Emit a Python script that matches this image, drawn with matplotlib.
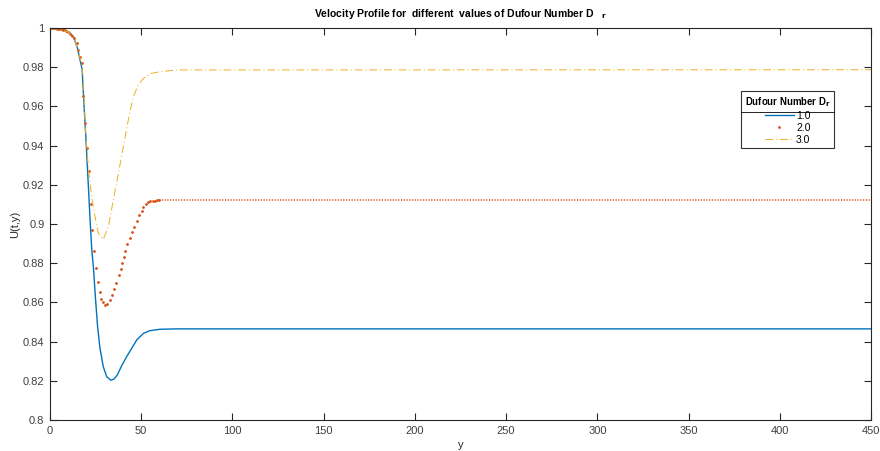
import matplotlib.pyplot as plt
from matplotlib.lines import Line2D
from matplotlib.ticker import FormatStrFormatter

plt.rcParams['font.family'] = ['Liberation Sans', 'DejaVu Sans']

# Dr = 1.0 (solid line)
y_d1 = [0, 4, 8, 11, 12.8, 15, 17.6, 18.7, 19.9, 21.0, 22.1, 22.9, 23.8, 25.0,
        26.1, 27.4, 29.2, 31.1, 33.4, 35.1, 36.9, 39.3, 42.0, 44.8, 47.5, 51.2,
        54.8, 60.3, 70, 450]
u_d1 = [1.0, 0.9997, 0.999, 0.9975, 0.9956, 0.99, 0.979, 0.96, 0.94, 0.92, 0.90,
        0.887, 0.878, 0.8612, 0.8476, 0.8366, 0.8272, 0.8221, 0.8203, 0.8209,
        0.823, 0.8277, 0.8323, 0.8366, 0.8408, 0.8442, 0.8456, 0.8463, 0.8465, 0.8465]

# Dr = 2.0 (dots) - dip region point by point, plateau afterwards
y_d2 = [0, 1, 2, 3, 4, 5, 6, 7, 8, 9, 10, 11, 12, 13, 14.6, 15.5, 16.4, 17.3,
        18.3, 19.2, 20.1, 21.2, 22.3, 23.3, 24.3, 25.4, 26.3, 27.2, 28.0, 29.1,
        30.3, 31.4, 32.7, 34.0, 35.3, 36.4, 37.6, 38.7, 39.7, 40.4, 41.1, 42.4,
        43.9, 45.1, 46.2, 47.5, 48.9, 50.2, 51.2, 52.4, 53.8, 55.0, 56.2, 57.5,
        58.8, 60.0]
u_d2 = [1.0, 1.0, 0.9999, 0.9998, 0.9997, 0.9996, 0.9994, 0.9991, 0.9988, 0.9984,
        0.9978, 0.997, 0.996, 0.9948, 0.9925, 0.9888, 0.9854, 0.982, 0.9655,
        0.9514, 0.9386, 0.927, 0.910, 0.8968, 0.8864, 0.8777, 0.8706, 0.8653,
        0.8619, 0.860, 0.8587, 0.8592, 0.861, 0.8638, 0.8667, 0.870, 0.874, 0.877,
        0.880, 0.883, 0.8864, 0.890, 0.893, 0.896, 0.8986, 0.9017, 0.9044, 0.9068,
        0.9088, 0.9102, 0.9112, 0.9115, 0.9117, 0.9119, 0.912, 0.9121]
y_d2_flat = [60, 450]
u_d2_flat = [0.9122, 0.9122]

# Dr = 3.0 (dash-dot)
y_d3 = [0, 5, 10, 13, 15, 17.5, 18.3, 19.2, 21.0, 22.8, 24.7, 26.5, 29.2, 32.0,
        34.7, 37.5, 40.2, 42.9, 45.7, 48.4, 51.2, 55.7, 60.3, 70, 450]
u_d3 = [1.0, 0.9995, 0.998, 0.995, 0.99, 0.981, 0.9735, 0.951, 0.9292, 0.914,
        0.9037, 0.8953, 0.8922, 0.8986, 0.9122, 0.9259, 0.9394, 0.953, 0.965,
        0.971, 0.9743, 0.9769, 0.9777, 0.9786, 0.9787]

c1, c2, c3 = '#0072BD', '#D95319', '#EDB120'

fig = plt.figure(figsize=(8.8, 4.51), dpi=100)
ax = fig.add_axes([0.0568, 0.0687, 0.9330, 0.8692])

ax.plot(y_d1, u_d1, color=c1, linewidth=1.0, label='1.0')
ax.plot(y_d2, u_d2, color=c2, linestyle='none', marker='.', markersize=2.0, label='2.0')
ax.plot(y_d2_flat, u_d2_flat, color=c2, linestyle=(0, (0.8, 1.0)), linewidth=1.1)
ax.plot(y_d3, u_d3, color=c3, linewidth=0.7, linestyle=(0, (8, 3, 1, 3)), label='3.0')

ax.set_xlim(0, 450)
ax.set_ylim(0.8, 1.0)
ax.set_xticks(range(0, 451, 50))
ax.set_yticks([0.8 + 0.02 * i for i in range(11)])
ax.yaxis.set_major_formatter(FormatStrFormatter('%g'))
ax.tick_params(direction='in', length=5, width=0.8, top=True, right=True,
               labelsize=8, colors='#262626', labelcolor='#404040', pad=4)
for s in ax.spines.values():
    s.set_color('#262626')
    s.set_linewidth(0.8)

ax.set_title('Velocity Profile for  different  values of Dufour Number D   $_{\\mathbf{r}}$',
             fontsize=7.5, fontweight='bold', pad=8)
ax.set_xlabel('y', fontsize=8, color='#262626', labelpad=3)
ax.set_ylabel('U(t,y)', fontsize=8, color='#262626', labelpad=2)

leg = ax.legend(title='Dufour Number D$_{\\mathbf{r}}$', loc='upper right',
                bbox_to_anchor=(0.955, 0.839), borderaxespad=0, fontsize=7.5,
                frameon=True, fancybox=False, edgecolor='black', handlelength=2.8,
                handletextpad=0.2, borderpad=0.35, labelspacing=0.2)
leg.get_title().set_fontweight('bold')
leg.get_title().set_fontsize(6.9)
leg.get_frame().set_linewidth(0.8)

# separator line under the legend title
fig.canvas.draw()
bb = leg.get_frame().get_window_extent()
tb = leg.get_title().get_window_extent()
ysep = tb.y0 - 3
fig.add_artist(Line2D([bb.x0, bb.x1], [ysep, ysep], transform=None,
                      color='black', linewidth=0.6))

fig.savefig('out.png', dpi=100)
